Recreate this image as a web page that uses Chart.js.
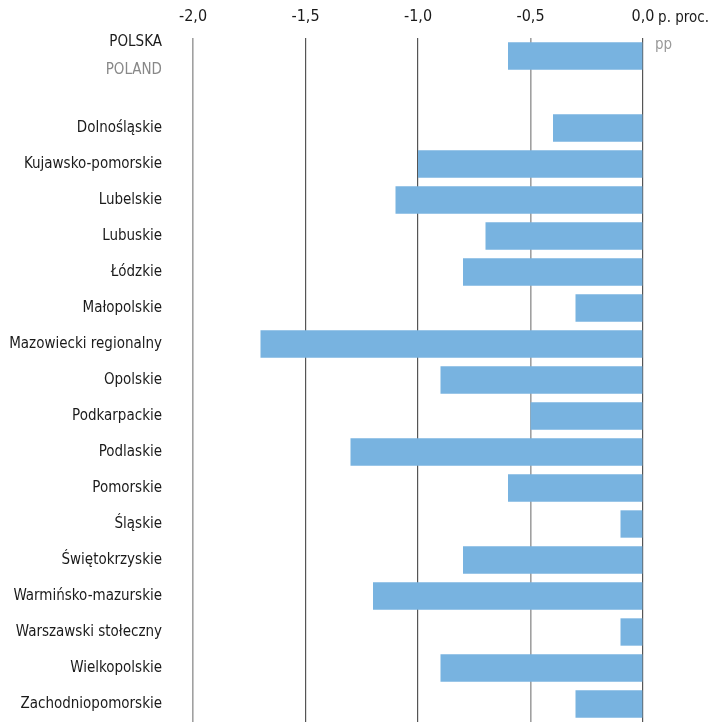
<!DOCTYPE html>
<html><head><meta charset="utf-8">
<script src="https://cdn.jsdelivr.net/npm/chart.js@4"></script>
<style>html,body{margin:0;padding:0;background:#fff;overflow:hidden}canvas{display:block}</style>
</head><body><canvas id="c" width="712" height="724" style="width:712px;height:724px"></canvas>
<script>
const categories = ['POLSKA','', 'Dolnośląskie','Kujawsko-pomorskie','Lubelskie','Lubuskie','Łódzkie','Małopolskie','Mazowiecki regionalny','Opolskie','Podkarpackie','Podlaskie','Pomorskie','Śląskie','Świętokrzyskie','Warmińsko-mazurskie','Warszawski stołeczny','Wielkopolskie','Zachodniopomorskie'];
const values = [-0.6, null, -0.4,-1.0,-1.1,-0.7,-0.8,-0.3,-1.7,-0.9,-0.5,-1.3,-0.6,-0.1,-0.8,-1.2,-0.1,-0.9,-0.3];
const englishLabel = 'POLAND';
const unitPL = 'p. proc.';
const unitEN = 'pp';
const FONT = "'Liberation Sans Narrow','DejaVu Sans Condensed',sans-serif";

const extras = {
  id:'extras',
  afterDraw(chart){
    const {ctx, scales:{x,y}} = chart;
    ctx.save();
    ctx.font = '15px ' + FONT;
    ctx.textAlign = 'right';
    ctx.textBaseline = 'middle';
    ctx.fillStyle = '#1a1a1a';
    ctx.fillText(unitPL, 709, 18);
    ctx.textAlign = 'left';
    ctx.fillStyle = '#999';
    ctx.fillText(unitEN, x.getPixelForValue(0) + 12, 45);
    ctx.textAlign = 'right';
    ctx.fillStyle = '#888';
    ctx.fillText(englishLabel, x.left - 31, y.getPixelForValue(0) + 14);
    ctx.restore();
  }
};

new Chart(document.getElementById('c'), {
  type:'bar',
  data:{labels:categories, datasets:[{data:values, backgroundColor:'#78b3e0', barPercentage:0.76, categoryPercentage:1}]},
  options:{
    indexAxis:'y', responsive:false, maintainAspectRatio:false, animation:false, devicePixelRatio:1,
    layout:{padding:{top:0,right:69,bottom:2,left:0}},
    plugins:{legend:{display:false}, tooltip:{enabled:false}},
    scales:{
      x:{position:'top', min:-2, max:0,
        ticks:{stepSize:0.5, color:'#1a1a1a', padding:12, font:{family:FONT,size:16},
          callback:(v)=>Number(v).toFixed(1).replace('.',',')},
        afterFit:(s)=>{s.height=38; s.paddingLeft=0; s.paddingRight=0;},
        grid:{drawTicks:false, color:(c)=>{const v=c.tick&&c.tick.value; if(v===0) return '#555'; if(v===-1.5||v===-1) return '#555'; return '#a0a0a0';}, lineWidth:(c)=>{const v=c.tick&&c.tick.value; return (v===-2||v===-0.5)?1.6:1.2;}},
        border:{display:false}},
      y:{
        afterFit:(s)=>{s.width=193; s.paddingTop=0; s.paddingBottom=0;},
        ticks:{color:'#1a1a1a', padding:31, autoSkip:false, font:{family:FONT,size:15,lineHeight:1.8},
          callback:function(v,i){ return i===0 ? [categories[i], ''] : categories[i]; }},
        grid:{display:false, drawTicks:false}, border:{display:false}}
    }
  },
  plugins:[extras]
});
</script></body></html>
